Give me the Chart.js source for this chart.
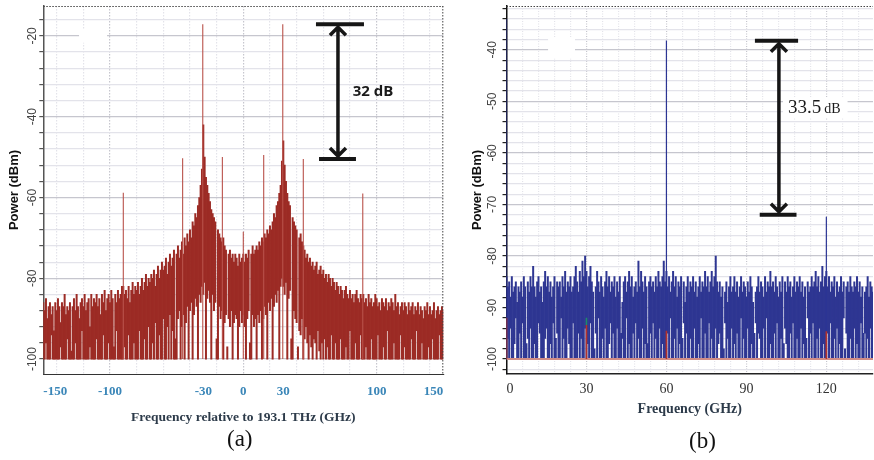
<!DOCTYPE html>
<html lang="en">
<head>
<meta charset="UTF-8">
<title>Spectra</title>
<style>
  body { margin: 0; background: #fff; width: 874px; height: 460px; position: relative; overflow: hidden; }
  .box { position: absolute; top: 0; height: 460px; }
  #boxA { left: 0; width: 446px; }
  #boxB { left: 446px; width: 428px; }
  .cap { position: absolute; font-family: "Liberation Serif", serif; font-size: 23px; color: #111; }
</style>
</head>
<body>
<div class="box" id="boxA"><canvas id="chartA"></canvas></div>
<div class="box" id="boxB"><canvas id="chartB"></canvas></div>
<div class="cap" style="left:227px; top:426px">(a)</div>
<div class="cap" style="left:689px; top:428px">(b)</div>

<script src="https://cdn.jsdelivr.net/npm/chart.js"></script>
<script>
// ---------- (a) spectrum, 1 GHz bins from -150 to 150 GHz ----------
const fStartA = -150, fStepA = 1;
// upper edge of the trace in each bin (dBm)
const topA = [
  -86, -88, -85, -90, -87, -86, -89, -87, -93, -86,   // -150
  -88, -85, -87, -91, -86, -87, -84, -89, -87, -88,   // -140
  -86, -98, -87, -85, -88, -84, -87, -90, -86, -85,   // -130
  -87, -84, -88, -86, -85, -92, -84, -87, -85, -86,   // -120
  -84, -87, -85, -89, -84, -86, -83, -88, -85, -84,   // -110
  -86, -83, -85, -97, -84, -86, -83, -85, -84, -82,   // -100
  -82, -84, -83, -85, -82, -86, -83, -81, -84, -82,   // -90
  -83, -81, -84, -82, -80, -83, -81, -79, -82, -80,   // -80
  -81, -79, -80, -78, -82, -79, -77, -80, -78, -76,   // -70
  -78, -77, -75, -79, -76, -74, -77, -75, -73, -95,   // -60
  -74, -72, -75, -73, -71, -74, -70, -72, -69, -71,   // -50
  -68, -70, -66, -67, -64, -65, -62, -60, -57, -53,   // -40
  -42, -50, -55, -57, -59, -61, -63, -64, -65, -66,   // -30
  -95, -68, -69, -70, -71, -70, -72, -73, -97, -74,   // -20
  -73, -75, -74, -76, -74, -75, -77, -74, -76, -75,   // -10
  -74, -76, -74, -75, -73, -96, -74, -72, -74, -73,   // 0
  -72, -73, -71, -72, -70, -71, -69, -70, -68, -69,   // 10
  -67, -68, -66, -64, -65, -62, -61, -59, -57, -51,   // 20
  -46, -52, -56, -59, -61, -62, -95, -65, -66, -67,   // 30
  -68, -97, -70, -69, -71, -72, -73, -75, -74, -76,   // 40
  -75, -77, -76, -78, -77, -76, -79, -78, -77, -79,   // 50
  -78, -80, -79, -81, -79, -80, -82, -80, -81, -83,   // 60
  -81, -82, -84, -82, -83, -85, -83, -82, -84, -85,   // 70
  -83, -85, -84, -86, -84, -83, -85, -86, -84, -85,   // 80
  -84, -86, -85, -87, -84, -86, -85, -87, -86, -84,   // 90
  -85, -87, -86, -88, -85, -86, -87, -85, -88, -86,   // 100
  -87, -85, -86, -88, -84, -87, -86, -89, -87, -86,   // 110
  -88, -86, -87, -89, -86, -88, -87, -86, -89, -87,   // 120
  -88, -86, -89, -87, -88, -90, -87, -88, -86, -89,   // 130
  -87, -89, -88, -86, -90, -88, -87, -89, -88, -87, -88 // 140..150
];
// lower edge of the trace in each bin (dBm)
const lowA = [
  -100, -100, -96, -100, -100, -100, -94, -100, -100, -100,
  -100, -100, -100, -97, -100, -100, -100, -100, -95, -100,
  -100, -100, -100, -100, -96, -100, -100, -100, -100, -93,
  -100, -100, -100, -100, -100, -97, -100, -100, -100, -100,
  -95, -100, -100, -100, -100, -94, -100, -100, -100, -96,
  -100, -100, -100, -100, -100, -93, -100, -100, -100, -100,
  -100, -97, -100, -100, -94, -100, -100, -100, -96, -100,
  -100, -100, -93, -100, -100, -100, -95, -100, -100, -92,
  -100, -100, -96, -100, -91, -100, -100, -94, -100, -100,
  -90, -100, -100, -92, -100, -89, -100, -93, -100, -100,
  -100, -90, -88, -100, -92, -89, -100, -91, -87, -100,
  -88, -86, -100, -89, -85, -87, -100, -84, -86, -82,
  -84, -81, -100, -85, -83, -86, -100, -84, -88, -86,
  -100, -100, -87, -90, -88, -100, -91, -89, -100, -90,
  -92, -88, -100, -91, -89, -90, -100, -92, -88, -91,
  -89, -92, -100, -90, -88, -100, -100, -89, -92, -90,
  -100, -89, -91, -88, -100, -90, -87, -89, -100, -86,
  -88, -85, -100, -87, -84, -86, -83, -100, -82, -80,
  -82, -84, -81, -100, -85, -83, -100, -100, -88, -90,
  -91, -100, -93, -94, -90, -100, -95, -92, -96, -100,
  -94, -97, -100, -95, -96, -100, -93, -98, -100, -96,
  -100, -95, -100, -97, -100, -100, -94, -100, -100, -96,
  -100, -100, -100, -95, -100, -100, -100, -97, -100, -100,
  -93, -100, -100, -100, -96, -100, -100, -100, -94, -100,
  -100, -100, -97, -100, -100, -100, -95, -100, -100, -100,
  -100, -94, -100, -100, -100, -97, -100, -100, -93, -100,
  -100, -100, -100, -96, -100, -100, -100, -100, -94, -100,
  -100, -97, -100, -100, -100, -100, -95, -100, -100, -100,
  -93, -100, -100, -100, -96, -100, -100, -100, -100, -97,
  -100, -100, -95, -100, -100, -100, -100, -94, -100, -100, -100
];
// narrow tones
const toneFreqA = [-90, -45.5, -30.4, -15.7, 0, 15.3, 29.6, 45, 89.6];
const toneTopA  = [-58.8, -50.3, -17.1, -50, -68.5, -49.5, -17.1, -50.5, -59];
const floorA = -100;
const xLabelsA = [-150, -100, -30, 0, 30, 100, 150];
const yLabelsA = [-20, -40, -60, -80, -100];

// ---------- (b) spectrum, 0.5 GHz bins from 0 to 137.5 GHz ----------
const fStartB = 0, fStepB = 0.5;
const topB = [
  -84, -86, -85, -88, -84, -87, -86, -85, -89, -86,   // 0
  -87, -85, -88, -84, -86, -97, -85, -87, -84, -86,   // 5
  -82, -86, -88, -85, -84, -87, -86, -89, -85, -83,   // 10
  -86, -84, -87, -85, -88, -86, -84, -96, -85, -86,   // 15
  -85, -88, -84, -86, -83, -87, -85, -86, -84, -87,   // 20
  -86, -84, -82, -85, -87, -83, -85, -81, -84, -80,   // 25
  -83, -86, -84, -82, -85, -87, -98, -86, -83, -85,   // 30
  -87, -84, -86, -88, -85, -83, -86, -84, -87, -85,   // 35
  -86, -84, -88, -85, -87, -84, -95, -89, -85, -84,   // 40
  -87, -85, -83, -86, -84, -88, -86, -85, -87, -81,   // 45
  -86, -83, -85, -87, -84, -86, -97, -85, -84, -86,   // 50
  -85, -87, -84, -86, -83, -85, -86, -84, -81, -85,   // 55
  -83, -86, -84, -87, -85, -83, -86, -84, -88, -85,   // 60
  -86, -84, -96, -85, -89, -86, -84, -87, -85, -86,   // 65
  -84, -87, -85, -88, -86, -84, -87, -85, -86, -83,   // 70
  -86, -84, -87, -85, -83, -86, -84, -80, -85, -87,   // 75
  -85, -88, -86, -98, -87, -85, -89, -86, -84, -87,   // 80
  -86, -84, -87, -85, -88, -86, -84, -87, -85, -86,   // 85
  -88, -85, -87, -84, -86, -89, -95, -87, -86, -84,   // 90
  -87, -85, -86, -88, -84, -87, -85, -86, -83, -86,   // 95
  -85, -87, -84, -86, -88, -85, -87, -84, -97, -85,   // 100
  -87, -84, -86, -85, -88, -86, -84, -87, -85, -86,   // 105
  -84, -87, -85, -88, -86, -96, -85, -87, -86, -84,   // 110
  -86, -85, -83, -86, -84, -87, -85, -82, -86, -84,   // 115
  -83, -86, -84, -87, -85, -86, -84, -88, -85, -87,   // 120
  -86, -84, -87, -85, -98, -86, -85, -87, -84, -86,   // 125
  -87, -85, -86, -84, -87, -85, -88, -86, -95, -87,   // 130
  -86, -84, -88, -85, -86, -87                        // 135..137.5
];
const lowB = [
  -100, -96, -100, -94, -100, -100, -97, -92, -100, -100,
  -95, -100, -93, -100, -100, -100, -96, -100, -94, -100,
  -100, -97, -100, -100, -93, -95, -100, -100, -100, -96,
  -94, -100, -100, -97, -100, -93, -100, -100, -95, -100,
  -100, -92, -100, -96, -100, -100, -94, -97, -100, -100,
  -93, -100, -100, -100, -95, -100, -96, -100, -100, -94,
  -100, -97, -100, -93, -100, -100, -100, -95, -100, -92,
  -100, -100, -96, -100, -94, -100, -100, -97, -93, -100,
  -95, -100, -100, -94, -100, -100, -100, -96, -100, -100,
  -92, -100, -97, -100, -100, -95, -100, -93, -100, -96,
  -100, -100, -94, -100, -97, -100, -100, -100, -95, -100,
  -93, -100, -96, -100, -100, -94, -100, -97, -100, -100,
  -100, -95, -100, -92, -100, -100, -96, -100, -94, -100,
  -97, -100, -100, -93, -100, -95, -100, -100, -96, -100,
  -100, -94, -100, -100, -97, -100, -92, -100, -100, -95,
  -100, -100, -93, -100, -96, -100, -100, -94, -100, -97,
  -95, -100, -100, -100, -93, -100, -96, -100, -100, -94,
  -100, -97, -100, -95, -100, -100, -92, -100, -96, -100,
  -100, -94, -100, -100, -97, -100, -100, -93, -100, -95,
  -96, -100, -100, -94, -100, -92, -100, -100, -97, -100,
  -100, -95, -100, -93, -100, -100, -96, -100, -100, -94,
  -97, -100, -100, -95, -100, -93, -100, -100, -96, -100,
  -100, -94, -100, -97, -100, -100, -92, -100, -95, -100,
  -93, -100, -100, -96, -100, -94, -100, -100, -97, -100,
  -100, -95, -100, -93, -100, -100, -96, -100, -94, -100,
  -97, -100, -100, -92, -100, -95, -100, -100, -96, -100,
  -100, -94, -100, -97, -100, -100, -93, -100, -100, -95,
  -100, -96, -100, -94, -100, -100
];
const toneFreqB = [0, 60, 120];
const toneTopB  = [-34, -38.2, -72.4];
// second (red) channel underneath
const redFreqB = [0, 30, 60, 120];
const redTopB  = [-92, -93.4, -94.5, -94.6];
const greenFreqB = [30];
const greenRangeB = [[-93.4, -92]];
const floorB = -100;
const xLabelsB = [0, 30, 60, 90, 120];
const yLabelsB = [-40, -50, -60, -70, -80, -90, -100];

// ---------- helpers ----------
const minorGrid = '#e3e3ea', majorGrid = '#c6c6ce';
const serif = '"Liberation Serif", "Times New Roman", serif';
const sans = '"Liberation Sans", Arial, sans-serif';

function tickList(from, to, step, extra) {
  const set = new Set(extra);
  for (let v = from; v <= to + 1e-9; v += step) set.add(Math.round(v * 1000) / 1000);
  return [...set].sort((a, b) => a - b).map(v => ({ value: v }));
}
function gridColor(step, major) {
  return c => {
    const v = c.tick ? c.tick.value : NaN;
    if (Math.abs(v % major) < 1e-6) return majorGrid;
    if (Math.abs(v % step) < 1e-6) return minorGrid;
    return 'rgba(0,0,0,0)';
  };
}
function bins(start, step, low, top) {
  return top.map((t, i) => ({ x: start + i * step, y: [low[i], t] }));
}
// keep the plot box where it is: no extra room for overhanging labels
function fixX(h) {
  return s => { s.height = h; s.paddingLeft = 0; s.paddingRight = 0; };
}
function fixY(w) {
  return s => { s.width = w; s.paddingTop = 0; s.paddingBottom = 0; };
}

function drawArrow(chart, a) {
  const { ctx, scales: { x, y } } = chart;
  const px = x.getPixelForValue(a.x);
  const yt = y.getPixelForValue(a.top), yb = y.getPixelForValue(a.bottom);
  ctx.save();
  ctx.strokeStyle = '#161616';
  ctx.lineWidth = 4;
  ctx.beginPath();
  ctx.moveTo(x.getPixelForValue(a.capTop[0]), yt); ctx.lineTo(x.getPixelForValue(a.capTop[1]), yt);
  ctx.moveTo(x.getPixelForValue(a.capBottom[0]), yb); ctx.lineTo(x.getPixelForValue(a.capBottom[1]), yb);
  ctx.stroke();
  ctx.lineWidth = 3.5;
  ctx.beginPath();
  ctx.moveTo(px, yt + 2); ctx.lineTo(px, yb - 2);
  ctx.moveTo(px - 8, yt + 11); ctx.lineTo(px, yt + 3); ctx.lineTo(px + 8, yt + 11);
  ctx.moveTo(px - 8, yb - 11); ctx.lineTo(px, yb - 3); ctx.lineTo(px + 8, yb - 11);
  ctx.stroke();
  ctx.restore();
}

function drawLabel(chart, l) {
  const { ctx, scales: { x, y } } = chart;
  let px = x.getPixelForValue(l.x);
  const py = y.getPixelForValue(l.y);
  ctx.save();
  ctx.textBaseline = 'alphabetic';
  if (l.box) {
    let w = 0;
    l.parts.forEach(([t, f, g]) => { ctx.font = f; w += ctx.measureText(t).width + g; });
    ctx.fillStyle = '#fff';
    ctx.fillRect(px - 5, py - 16, w + 12, 21);
  }
  ctx.fillStyle = '#1a1a1a';
  l.parts.forEach(([t, f, g]) => {
    ctx.font = f;
    ctx.fillText(t, px, py);
    px += ctx.measureText(t).width + g;
  });
  ctx.restore();
}

const decorPlugin = {
  id: 'decor',
  beforeDatasetsDraw(chart, args, o) {
    if (!o.blank) return;
    const { ctx, scales: { x, y } } = chart;
    const [x0, x1, y0, y1] = o.blank;
    ctx.save();
    ctx.fillStyle = '#fff';
    ctx.fillRect(x.getPixelForValue(x0), y.getPixelForValue(y0),
      x.getPixelForValue(x1) - x.getPixelForValue(x0), y.getPixelForValue(y1) - y.getPixelForValue(y0));
    ctx.restore();
  },
  afterDraw(chart, args, o) {
    const { ctx, chartArea: a } = chart;
    ctx.save();
    ctx.strokeStyle = '#444';
    ctx.lineWidth = 1;
    ctx.setLineDash([1.5, 1.5]);
    ctx.beginPath();
    ctx.moveTo(a.left, a.top + 0.5); ctx.lineTo(a.right, a.top + 0.5);
    if (o.rightEdge) { ctx.moveTo(a.right - 0.5, a.top); ctx.lineTo(a.right - 0.5, a.bottom); }
    ctx.stroke();
    ctx.restore();
    if (o.arrow) drawArrow(chart, o.arrow);
    if (o.label) drawLabel(chart, o.label);
  }
};

// ---------- chart (a) ----------
const minA = -150, maxA = 150, plotWA = 400;
new Chart(document.getElementById('chartA'), {
  type: 'bar',
  data: {
    datasets: [
      {
        data: toneFreqA.map((f, i) => ({ x: f, y: [floorA, toneTopA[i]] })),
        backgroundColor: '#b9524b', grouped: false, barThickness: 1.1, inflateAmount: 0, order: 1
      },
      {
        data: bins(fStartA, fStepA, lowA, topA),
        backgroundColor: '#9c2b25', grouped: false, barThickness: plotWA * fStepA / (maxA - minA), order: 2
      }
    ]
  },
  options: {
    responsive: true, maintainAspectRatio: false, animation: false, events: [],
    layout: { padding: { left: 0, right: 2.7, top: 6, bottom: 0 } },
    plugins: {
      legend: { display: false }, tooltip: { enabled: false },
      decor: {
        rightEdge: true,
        blank: [-123.2, -102.2, -18.3, -21.7],
        arrow: { x: 71, top: -17.1, bottom: -50.5, capTop: [54.5, 90.5], capBottom: [56.8, 84.5] },
        label: { x: 82, y: -35, parts: [['32 dB', 'bold 15px "Open Sans"', 0]] }
      }
    },
    scales: {
      x: {
        type: 'linear', min: minA, max: maxA, offset: false,
        afterBuildTicks: s => { s.ticks = tickList(-140, 140, 20, xLabelsA); },
        afterFit: fixX(86),
        ticks: {
          autoSkip: false, maxRotation: 0, padding: 10, align: 'inner', color: '#3a86b8',
          font: { family: serif, size: 13, weight: 'bold' },
          callback: v => xLabelsA.includes(v) ? String(v) : ''
        },
        grid: { offset: false, drawTicks: false, color: gridColor(20, 100), lineWidth: 1.2 },
        border: { color: '#333', width: 1, dash: [1.5, 1.5] },
        title: {
          display: true, text: 'Frequency relative to 193.1 THz (GHz)', color: '#2d3b4a',
          font: { family: serif, size: 13.5, weight: 'bold' }, padding: { top: 0, bottom: 34 }
        }
      },
      y: {
        min: -103.7, max: -12.6,
        afterBuildTicks: s => { s.ticks = tickList(-100, -16, 4, yLabelsA); },
        afterFit: fixY(43.3),
        ticks: {
          autoSkip: false, minRotation: 90, maxRotation: 90, crossAlign: 'center', padding: -5,
          color: '#444', font: { family: sans, size: 12 },
          callback: v => yLabelsA.includes(v) ? String(v) : ''
        },
        grid: { color: gridColor(4, 20), lineWidth: 1.2, drawTicks: true, tickLength: 4, tickColor: '#555' },
        border: { color: '#555', width: 1.5 },
        title: {
          display: true, text: 'Power (dBm)', color: '#111',
          font: { family: sans, size: 13, weight: 'bold' }, padding: { top: 7, bottom: 0 }
        }
      }
    }
  },
  plugins: [decorPlugin]
});

// ---------- chart (b) ----------
const minB = 0, maxB = 137.5, plotWB = 366.5;
new Chart(document.getElementById('chartB'), {
  type: 'bar',
  data: {
    datasets: [
      {
        data: greenFreqB.map((f, i) => ({ x: f, y: greenRangeB[i] })),
        backgroundColor: '#1f8a6a', grouped: false, barThickness: 1.6, inflateAmount: 0, order: 1
      },
      {
        data: redFreqB.map((f, i) => ({ x: f, y: [floorB, redTopB[i]] })),
        backgroundColor: '#b3322b', grouped: false, barThickness: 1.6, inflateAmount: 0, order: 2
      },
      {
        type: 'line',
        data: [{ x: minB, y: floorB }, { x: maxB, y: floorB }],
        borderColor: '#d08c86', borderWidth: 2, pointRadius: 0, order: 3
      },
      {
        data: toneFreqB.map((f, i) => ({ x: f, y: [floorB, toneTopB[i]] })),
        backgroundColor: '#2c3594', grouped: false, barThickness: 1.2, inflateAmount: 0, order: 4
      },
      {
        data: bins(fStartB, fStepB, lowB, topB),
        backgroundColor: '#2e3692', grouped: false, barThickness: plotWB * fStepB / (maxB - minB), order: 5
      }
    ]
  },
  options: {
    responsive: true, maintainAspectRatio: false, animation: false, events: [],
    layout: { padding: { left: 0, right: 1, top: 6, bottom: 0 } },
    plugins: {
      legend: { display: false }, tooltip: { enabled: false },
      decor: {
        rightEdge: false,
        blank: [15.6, 25.7, -37.5, -41.7],
        arrow: { x: 102.2, top: -38.25, bottom: -72.0, capTop: [93.2, 109.4], capBottom: [95, 108.8] },
        label: {
          x: 105.6, y: -52.3, box: true,
          parts: [['33.5', '19px "Liberation Serif"', 3], ['dB', '14px "Liberation Serif"', 0]]
        }
      }
    },
    scales: {
      x: {
        type: 'linear', min: minB, max: maxB, offset: false,
        afterBuildTicks: s => { s.ticks = tickList(6, 132, 6, xLabelsB); },
        afterFit: fixX(86),
        ticks: {
          autoSkip: false, maxRotation: 0, padding: 7, align: 'inner', color: '#333',
          font: { family: serif, size: 14 },
          callback: v => xLabelsB.includes(v) ? String(v) : ''
        },
        grid: { offset: false, drawTicks: false, color: gridColor(6, 30), lineWidth: 1.2 },
        border: { color: '#222', width: 1.5, dash: [1, 1.5] },
        title: {
          display: true, text: 'Frequency (GHz)', color: '#2d3b4a',
          font: { family: serif, size: 14, weight: 'bold' }, padding: { top: 0, bottom: 42 }
        }
      },
      y: {
        min: -102.9, max: -31.5,
        afterBuildTicks: s => { s.ticks = tickList(-102, -32, 2, yLabelsB); },
        afterFit: fixY(60.5),
        ticks: {
          autoSkip: false, minRotation: 90, maxRotation: 90, crossAlign: 'center', padding: -2.5,
          color: '#444', font: { family: sans, size: 12 },
          callback: v => yLabelsB.includes(v) ? String(v) : ''
        },
        grid: { color: gridColor(2, 10), lineWidth: 1.2, drawTicks: true, tickLength: 4, tickColor: '#222' },
        border: { color: '#111', width: 1.5 },
        title: {
          display: true, text: 'Power (dBm)', color: '#111',
          font: { family: sans, size: 13, weight: 'bold' }, padding: { top: 24, bottom: 0 }
        }
      }
    }
  },
  plugins: [decorPlugin]
});
</script>
</body>
</html>
